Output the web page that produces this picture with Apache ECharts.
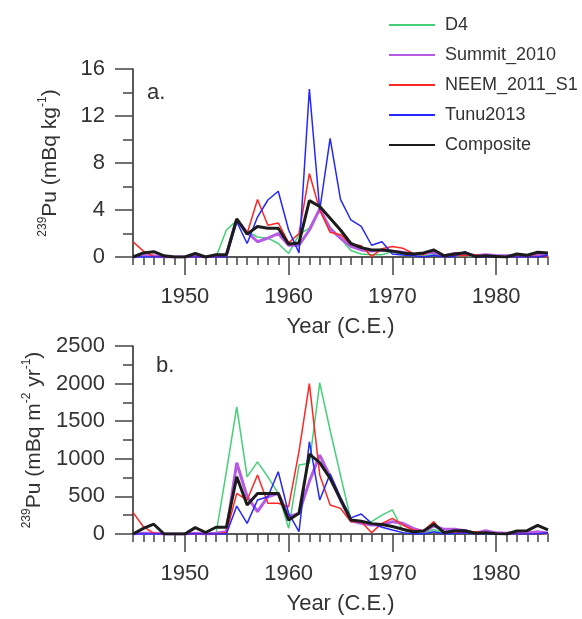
<!DOCTYPE html>
<html>
<head>
<meta charset="utf-8">
<script src="https://cdn.jsdelivr.net/npm/echarts@6/dist/echarts.min.js"></script>
<style>
  html, body { margin: 0; padding: 0; background: #fff; }
  #chart { width: 582px; height: 619px; }
</style>
</head>
<body>
<div id="chart"></div>
<script>
// years 1945..1985
const years = []
for (let y = 1945; y <= 1985; y++) years.push(y)
const majorYears = [1950, 1960, 1970, 1980]

// a. concentration, mBq kg-1
const d4Conc = [0, 0, 0, 0, 0, 0, 0, 0, 0, 2.3, 3.1, 2.15, 1.7, 1.6, 1.15, 0.3, 1.9, 2.45, 4.1, 2.55, 1.6, 0.55, 0.25, 0.2, 0.2, 0.45, 0.25, 0.1, 0.1, 0.2, 0.05, 0.1, 0.1, 0.05, 0.05, 0.05, 0.05, 0.05, 0.05, 0.1, 0.05]
const summitConc = [0, 0.1, 0.1, 0, 0, 0, 0.1, 0, 0.1, 0.15, 3.2, 2.1, 1.3, 1.6, 2.0, 1.0, 1.0, 2.3, 4.1, 2.4, 1.6, 0.9, 0.6, 0.5, 0.6, 0.5, 0.4, 0.2, 0.3, 0.4, 0.1, 0.3, 0.3, 0.1, 0.2, 0.1, 0.1, 0.15, 0.1, 0.2, 0.1]
const neemConc = [1.3, 0.5, 0.05, 0, 0, 0, 0, 0, 0, 0.1, 3.2, 2.0, 4.9, 2.7, 2.9, 1.2, 2.0, 7.1, 4.0, 2.1, 1.9, 1.1, 0.95, 0.05, 0.7, 0.9, 0.75, 0.3, 0.2, 0.65, 0, 0.15, 0.1, 0.2, 0.05, 0.05, 0, 0.05, 0.05, 0.05, 0.05]
const tunuConc = [0, 0, 0, 0, 0, 0, 0, 0, 0, 0, 3.0, 1.15, 3.4, 4.85, 5.6, 2.3, 0.35, 14.3, 4.0, 10.1, 4.9, 3.15, 2.6, 1.0, 1.3, 0.25, 0.17, 0.1, 0, 0.15, 0, 0.05, 0.45, 0, 0, 0, 0, 0, 0, 0, 0.15]
const compConc = [0, 0.35, 0.45, 0.1, 0, 0, 0.3, 0, 0.2, 0.2, 3.25, 1.95, 2.6, 2.45, 2.45, 1.1, 1.2, 4.8, 4.3, 3.3, 2.3, 1.15, 0.8, 0.6, 0.6, 0.5, 0.35, 0.25, 0.35, 0.6, 0.1, 0.25, 0.37, 0.05, 0.1, 0.05, 0, 0.25, 0.15, 0.4, 0.35]

// b. flux, mBq m-2 yr-1
const d4Flux = [0, 0, 0, 0, 0, 0, 0, 0, 0, 830, 1690, 760, 960, 760, 540, 75, 917, 940, 2010, 1380, 780, 190, 150, 165, 250, 320, 50, 20, 10, 60, 5, 5, 20, 5, 0, 0, 0, 0, 0, 5, 0]
const summitFlux = [0, 10, 10, 0, 0, 0, 10, 0, 10, 31, 948, 496, 297, 496, 540, 230, 275, 700, 1050, 762, 452, 175, 142, 120, 120, 164, 142, 75, 31, 106, 62, 62, 44, 10, 44, 15, 10, 15, 15, 30, 10]
const neemFlux = [288, 97, 9, 0, 0, 0, 0, 0, 0, 20, 540, 452, 784, 408, 408, 363, 1100, 2000, 785, 386, 341, 164, 164, 18, 142, 208, 120, 53, 44, 164, 0, 31, 10, 31, 10, 0, 0, 0, 0, 0, 10]
const tunuFlux = [0, 0, 0, 0, 0, 0, 0, 0, 0, 0, 372, 142, 452, 496, 828, 275, 31, 1227, 452, 800, 487, 215, 266, 142, 89, 53, 18, 5, 0, 31, 0, 5, 18, 0, 0, 0, 0, 0, 0, 0, 20]
const compFlux = [0, 75, 130, 0, 0, 0, 85, 20, 90, 90, 760, 385, 540, 540, 540, 185, 275, 1063, 950, 740, 460, 186, 170, 138, 125, 100, 64, 31, 40, 130, 18, 44, 44, 9, 18, 5, 0, 40, 44, 115, 55]

const names = ['D4', 'Summit_2010', 'NEEM_2011_S1', 'Tunu2013', 'Composite']
const colors = ['#45cf78', '#b65ae6', '#ff2626', '#2626ff', '#1c1c1c']
const widths = [1.5, 3, 1.5, 1.5, 3]

const font = 'Liberation Sans, Arial, sans-serif'
const axisColor = '#222'
const labelColor = '#333'
const plain = v => String(v)

function pairs (vals) {
  return years.map((y, i) => [y, vals[i]])
}

// two x axes per grid: yearly small ticks + decade ticks with labels
function xAxes (gridIndex) {
  return [{
    gridIndex,
    type: 'value',
    position: 'bottom',
    min: 1945,
    max: 1985,
    name: 'Year (C.E.)',
    nameLocation: 'middle',
    nameGap: 59,
    nameTextStyle: { fontFamily: font, fontSize: 22, color: labelColor },
    axisLine: { show: true, onZero: false, lineStyle: { color: axisColor, width: 1.5 } },
    axisTick: { show: true, customValues: majorYears, length: 18, lineStyle: { color: '#444', width: 1.5 } },
    axisLabel: { show: true, customValues: majorYears, formatter: plain, margin: 29, fontFamily: font, fontSize: 22, color: labelColor },
    splitLine: { show: false }
  }, {
    gridIndex,
    type: 'value',
    position: 'bottom',
    min: 1945,
    max: 1985,
    interval: 1,
    axisLine: { show: false, onZero: false },
    axisTick: { show: true, length: 8, lineStyle: { color: '#444', width: 1.5 } },
    axisLabel: { show: false },
    splitLine: { show: false }
  }]
}

function yAxis (gridIndex, max, interval, name, gap) {
  return {
    gridIndex,
    type: 'value',
    min: 0,
    max,
    interval,
    name,
    nameLocation: 'middle',
    nameRotate: 90,
    nameGap: gap,
    nameTextStyle: {
      fontFamily: font,
      fontSize: 21,
      color: labelColor,
      rich: {
        n: { fontFamily: font, fontSize: 21, color: labelColor, lineHeight: 24, verticalAlign: 'bottom' },
        s: { fontFamily: font, fontSize: 12, color: labelColor, lineHeight: 24, verticalAlign: 'top' }
      }
    },
    axisLine: { show: true, lineStyle: { color: axisColor, width: 1.5 } },
    axisTick: { show: true, length: 18, lineStyle: { color: '#444', width: 1.5 } },
    minorTick: { show: true, splitNumber: 2, length: 10, lineStyle: { color: '#444', width: 1.5 } },
    axisLabel: { margin: 28, formatter: plain, fontFamily: font, fontSize: 22, color: labelColor },
    splitLine: { show: false }
  }
}

function panel (data, xIndex, yIndex) {
  return data.map((vals, k) => ({
    name: names[k],
    type: 'line',
    xAxisIndex: xIndex,
    yAxisIndex: yIndex,
    symbol: 'none',
    lineStyle: { color: colors[k], width: widths[k] },
    itemStyle: { color: colors[k] },
    z: k === 4 ? 5 : 2,
    data: pairs(vals)
  }))
}

const option = {
  backgroundColor: '#fff',
  animation: false,
  title: [
    { text: 'a.', left: 142, top: 77, textStyle: { fontFamily: font, fontSize: 22, fontWeight: 'normal', color: labelColor } },
    { text: 'b.', left: 151, top: 350, textStyle: { fontFamily: font, fontSize: 22, fontWeight: 'normal', color: labelColor } }
  ],
  legend: {
    orient: 'vertical',
    left: 383,
    top: 11,
    itemWidth: 46,
    itemHeight: 14,
    itemGap: 12,
    selectedMode: false,
    itemStyle: { opacity: 0 },
    textStyle: { fontFamily: font, fontSize: 18, color: labelColor, padding: [0, 0, 0, 5] },
    data: names
  },
  grid: [
    { left: 133, right: 34, top: 69, height: 188, containLabel: false },
    { left: 133, right: 34, top: 346, height: 188, containLabel: false }
  ],
  xAxis: [...xAxes(0), ...xAxes(1)],
  yAxis: [
    yAxis(0, 16, 4, '{s|239}{n|Pu (mBq kg}{s|-1}{n|)}', 72),
    yAxis(1, 2500, 500, '{s|239}{n|Pu (mBq m}{s|-2}{n| yr}{s|-1}{n|)}', 87)
  ],
  series: [
    ...panel([d4Conc, summitConc, neemConc, tunuConc, compConc], 0, 0),
    ...panel([d4Flux, summitFlux, neemFlux, tunuFlux, compFlux], 2, 1)
  ]
}

const chart = echarts.init(document.getElementById('chart'))
chart.setOption(option)
</script>
</body>
</html>
